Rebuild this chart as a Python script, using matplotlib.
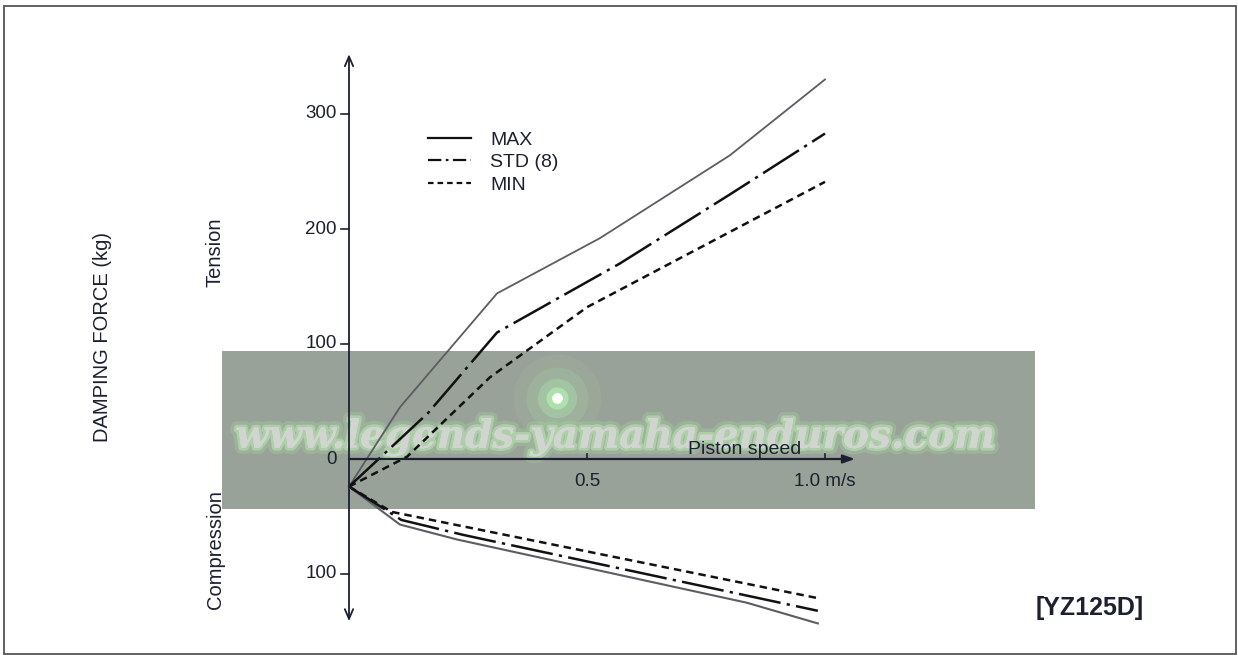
import matplotlib.pyplot as plt
import matplotlib.patheffects as pe
from matplotlib.lines import Line2D
from matplotlib.patches import Rectangle

plt.rcParams['font.family'] = ['Liberation Sans', 'DejaVu Sans']

# damping force curves, tension side (kg vs m/s)
speed_max = [0, 0.107, 0.311, 0.527, 0.80, 1.0]
force_max = [-24, 45, 144, 192, 264, 330]
speed_std = [0, 0.166, 0.311, 0.569, 0.80, 1.0]
force_std = [-24, 40, 110, 170, 230, 283]
speed_min = [0, 0.122, 0.296, 0.50, 1.0]
force_min = [-24, 2, 71, 132, 241]

# compression side
cspeed_max = [0, 0.107, 0.227, 0.836, 0.985]
cforce_max = [-24, -57, -70, -125, -143]
cspeed_std = [0, 0.11, 0.24, 0.985]
cforce_std = [-24, -53, -66, -132]
cspeed_min = [0, 0.09, 0.40, 0.985]
cforce_min = [-24, -46, -72, -121]

yticks = [300, 200, 100, 0, -100]
ytick_labels = ['300', '200', '100', '0', '100']
xticks = [0.5, 1.0]
xtick_labels = ['0.5', '1.0 m/s']

W, H = 1238, 661
fig = plt.figure(figsize=(W / 100, H / 100), dpi=100)
ax = fig.add_axes([0, 0, 1, 1])
ax.axis('off')

# pixel layout: origin at (349, 459), 476 px per m/s, 115 px per 100 kg
ox, oy, sx, sy = 349, 459, 476, 1.15
ax.set_xlim(-ox / sx, (W - ox) / sx)
ax.set_ylim((oy - H) / sy, oy / sy)

ink = '#1c2030'
std_dash = (0, (17, 2.5, 1.3, 2.5))
min_dash = (0, (3, 2))

ax.plot(speed_max, force_max, color='#5a5d64', lw=1.3, zorder=4)
ax.plot(speed_std, force_std, color='#111111', lw=1.8, ls=std_dash, zorder=4)
ax.plot(speed_min, force_min, color='#111111', lw=1.8, ls=min_dash, zorder=4)
ax.plot(cspeed_max, cforce_max, color='#5a5d64', lw=1.5, zorder=4)
ax.plot(cspeed_std, cforce_std, color='#111111', lw=1.8, ls=std_dash, zorder=4)
ax.plot(cspeed_min, cforce_min, color='#111111', lw=1.8, ls=min_dash, zorder=4)

# axes with arrows
ax.annotate('', xy=(0, 352), xytext=(0, -141),
            arrowprops=dict(arrowstyle='<->,head_length=0.7,head_width=0.3',
                            color=ink, lw=1.3, shrinkA=0, shrinkB=0), zorder=5)
ax.annotate('', xy=(1.063, 0), xytext=(0, 0),
            arrowprops=dict(arrowstyle='-|>,head_length=0.7,head_width=0.25',
                            color=ink, lw=1.6, shrinkA=0, shrinkB=0), zorder=5)

tick_dx = 8 / sx
for v, lab in zip(yticks, ytick_labels):
    if v != 0:
        ax.plot([-tick_dx, 0], [v, v], color=ink, lw=1.2, zorder=5)
    ax.text(-12 / sx, v, lab, ha='right', va='center', fontsize=13.5, color=ink, zorder=6)
for v, lab in zip(xticks, xtick_labels):
    ax.plot([v, v], [0, 5 / sy], color=ink, lw=1.2, zorder=5)
    ax.text(v, -22 / sy, lab, ha='center', va='center',
            fontsize=13.5, color=ink, zorder=6)

ax.text((745 - ox) / sx, 10 / sy, 'Piston speed', ha='center', va='center',
        fontsize=14, color=ink, zorder=6)

fig.text(103 / W, 1 - 337 / H, 'DAMPING FORCE (kg)', rotation=90,
         ha='center', va='center', fontsize=14.5, color=ink)
fig.text(215 / W, 1 - 252 / H, 'Tension', rotation=90,
         ha='center', va='center', fontsize=14.5, color=ink)
fig.text(215 / W, 1 - 550 / H, 'Compression', rotation=90,
         ha='center', va='center', fontsize=14.5, color=ink, zorder=6)
fig.text(1090 / W, 1 - 608 / H, '[YZ125D]', ha='center', va='center',
         fontsize=18, fontweight='bold', color=ink)

handles = [Line2D([], [], color='#111111', lw=1.6),
           Line2D([], [], color='#111111', lw=1.6, ls=(0, (6, 2, 1.2, 2))),
           Line2D([], [], color='#111111', lw=1.6, ls=(0, (2.5, 1.8)))]
ax.legend(handles, ['MAX', 'STD (8)', 'MIN'], loc='upper left',
          bbox_to_anchor=(428 / W, 1 - 131 / H), frameon=False, fontsize=14,
          handlelength=2.2, handletextpad=1.0, labelspacing=0.25,
          labelcolor=ink, borderpad=0, borderaxespad=0)

# page frame
ax.add_patch(Rectangle((4 / W, 1 - 654 / H), 1232 / W, 648 / H,
                       transform=fig.transFigure, fill=False,
                       edgecolor='#555555', lw=1.3, zorder=1))

# site watermark band, under the curves
ax.add_patch(Rectangle((222 / W, 1 - 509 / H), 813 / W, 158 / H,
                       transform=fig.transFigure, facecolor='#99a298',
                       edgecolor='none', zorder=1))
for s, a in [(4000, 0.06), (2000, 0.12), (800, 0.25), (250, 0.5), (60, 1.0)]:
    ax.add_artist(Line2D([557 / W], [1 - 398 / H], marker='o', markersize=s ** 0.5,
                         color='#b6ffb6' if s > 60 else 'white', alpha=a,
                         markeredgewidth=0, transform=fig.transFigure, zorder=2))
ax.text(615 / W, 1 - 437 / H, 'www.legends-yamaha-enduros.com', ha='center',
        va='center', fontsize=28, family='DejaVu Serif', style='italic',
        fontweight='bold', color='#d2d5d0', alpha=0.85, transform=fig.transFigure,
        zorder=3,
        path_effects=[pe.withStroke(linewidth=9, foreground='#a6e3a0', alpha=0.25),
                      pe.withStroke(linewidth=4, foreground='#bfeab9', alpha=0.5),
                      pe.Normal()])

fig.savefig('out.png', dpi=100)
